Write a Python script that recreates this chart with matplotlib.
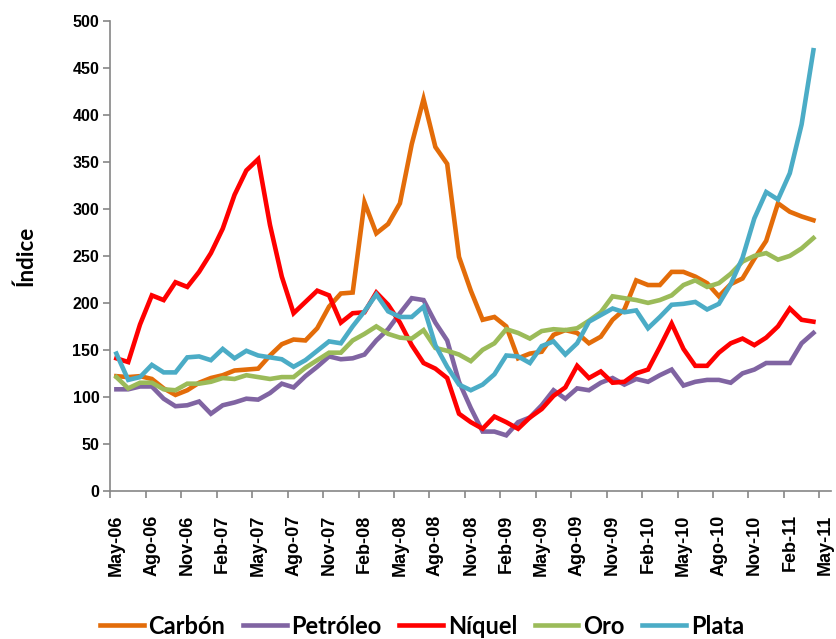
import matplotlib
matplotlib.use("Agg")
import matplotlib.pyplot as plt
import numpy as np

# monthly series, May-06 .. Apr-11
meses = ["Ene", "Feb", "Mar", "Abr", "May", "Jun", "Jul", "Ago", "Sep", "Oct", "Nov", "Dic"]

carbon = [122, 121, 122, 119, 109, 102, 107, 115, 120, 123, 128, 129, 130, 144, 156,
          161, 160, 173, 196, 210, 211, 307, 274, 284, 306, 369, 417, 366, 348, 249,
          213, 182, 185, 175, 141, 146, 148, 166, 171, 168, 157, 164, 182, 193, 224,
          219, 219, 233, 233, 228, 221, 207, 220, 226, 247, 266, 306, 297, 292, 288]
petroleo = [108, 108, 111, 111, 98, 90, 91, 95, 82, 91, 94, 98, 97, 104, 114,
            110, 122, 132, 143, 140, 141, 145, 160, 172, 189, 205, 203, 179, 160, 116,
            88, 63, 63, 59, 73, 78, 91, 107, 98, 109, 107, 115, 120, 113, 119,
            116, 123, 129, 112, 116, 118, 118, 115, 125, 129, 136, 136, 136, 157, 168]
niquel = [141, 137, 177, 208, 203, 222, 217, 233, 253, 279, 315, 341, 353, 283, 228,
          189, 201, 213, 208, 179, 189, 190, 211, 198, 179, 155, 136, 130, 120, 82,
          73, 66, 79, 73, 66, 78, 87, 101, 110, 133, 120, 127, 115, 116, 125,
          129, 153, 178, 151, 133, 133, 147, 157, 162, 155, 163, 175, 194, 182, 180]
oro = [121, 109, 115, 115, 108, 107, 114, 114, 116, 120, 119, 123, 121, 119, 121,
       121, 131, 139, 147, 147, 160, 167, 175, 167, 163, 162, 171, 152, 149, 145,
       138, 150, 157, 172, 168, 162, 170, 172, 171, 173, 181, 190, 207, 205, 203,
       200, 203, 208, 219, 224, 217, 221, 231, 244, 250, 253, 246, 250, 258, 269]
plata = [146, 118, 121, 134, 126, 126, 142, 143, 139, 151, 141, 149, 144, 142, 140,
         132, 139, 149, 159, 157, 175, 191, 209, 191, 185, 185, 196, 155, 132, 113,
         107, 113, 124, 144, 143, 136, 154, 159, 145, 157, 180, 187, 194, 190, 192,
         173, 185, 198, 199, 201, 193, 199, 220, 248, 290, 318, 310, 338, 390, 469]

nombres = ["Carbón", "Petróleo", "Níquel", "Oro", "Plata"]
colores = ["#E36C09", "#8064A2", "#FF0000", "#9BBB59", "#4BACC6"]

# 61 categories on the axis (last one, May-11, has no data)
etiquetas = []
for k in range(61):
    m = (4 + k) % 12
    a = 6 + (4 + k) // 12
    etiquetas.append("%s-%02d" % (meses[m], a))

fig = plt.figure(figsize=(8.37, 6.39), dpi=100)
ax = fig.add_axes([0.132, 0.232, 0.861, 0.735])

x = np.arange(len(carbon))
for serie, nombre, color in zip([carbon, petroleo, niquel, oro, plata], nombres, colores):
    ax.plot(x, serie, color=color, lw=3.3, label=nombre, solid_joinstyle="miter")

ax.set_xlim(-0.5, 60.5)
ax.set_ylim(0, 500)
ax.set_yticks(range(0, 501, 50))

gris = "#868686"
for s in ["top", "right"]:
    ax.spines[s].set_visible(False)
for s in ["left", "bottom"]:
    ax.spines[s].set_color(gris)
    ax.spines[s].set_linewidth(1.2)

# labels centred on categories, tick marks between them
ax.set_xticks(range(0, 61, 3))
ax.set_xticklabels(etiquetas[::3], rotation=90, fontsize=13, fontweight="bold",
                   family="Liberation Sans")
ax.set_xticks(np.arange(-0.5, 60, 3), minor=True)
ax.tick_params(axis="x", which="major", length=0, pad=17)
ax.tick_params(axis="x", which="minor", length=5, color=gris, width=1.2)
ax.tick_params(axis="y", length=5, color=gris, width=1.2, pad=3)
for t in ax.get_yticklabels():
    t.set_fontsize(11.5)
    t.set_fontweight("bold")
    t.set_family("Liberation Sans")

ax.set_ylabel("Índice", fontsize=16, fontweight="bold", family="Lato", labelpad=26)

fig.legend(loc="center", bbox_to_anchor=(0.504, 0.02), ncol=5, frameon=False,
           prop={"family": "Lato", "weight": "bold", "size": 17},
           handlelength=1.85, handletextpad=0.2, columnspacing=0.75)

fig.savefig("out.png", dpi=100)
